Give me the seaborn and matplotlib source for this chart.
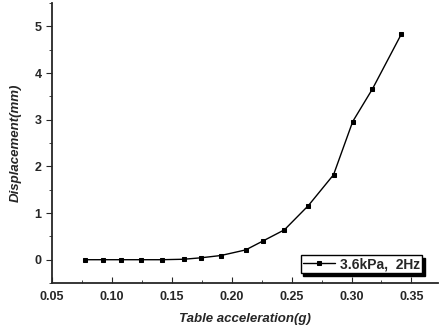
import seaborn as sns
import matplotlib.pyplot as plt
from matplotlib.ticker import MultipleLocator

accel = [0.0775, 0.0925, 0.1075, 0.124, 0.1417, 0.160, 0.174, 0.191,
         0.2117, 0.226, 0.244, 0.264, 0.285, 0.301, 0.3175, 0.3417]
disp = [0.0, 0.0, 0.0, 0.0, 0.0, 0.01, 0.04, 0.09,
        0.21, 0.40, 0.64, 1.16, 1.82, 2.96, 3.66, 4.84]
series_label = "3.6kPa,  2Hz"

sns.set_style("ticks")
plt.rcParams['font.family'] = ['Liberation Sans', 'DejaVu Sans']

fig = plt.figure(figsize=(4.4, 3.33), dpi=100)
ax = fig.add_axes([0.118, 0.150, 0.877, 0.841])

sns.lineplot(x=accel, y=disp, ax=ax, color='black', linewidth=1.0,
             marker='s', markersize=3.5, markeredgecolor='black',
             label=series_label)

ax.set_xlim(0.05, 0.372)
ax.set_ylim(-0.5, 5.5)
ax.xaxis.set_major_locator(MultipleLocator(0.05))
ax.xaxis.set_minor_locator(MultipleLocator(0.025))
ax.yaxis.set_major_locator(MultipleLocator(1))
ax.yaxis.set_minor_locator(MultipleLocator(0.5))
ax.set_xticks([0.05, 0.10, 0.15, 0.20, 0.25, 0.30, 0.35])
ax.set_xticklabels(['0.05', '0.10', '0.15', '0.20', '0.25', '0.30', '0.35'])

ax.tick_params(axis='x', which='both', direction='in', labelsize=9, pad=6)
ax.tick_params(axis='x', which='major', length=4)
ax.tick_params(axis='x', which='minor', length=2)
ax.tick_params(axis='y', which='both', direction='out', labelsize=9)
ax.tick_params(axis='y', which='major', length=4)
ax.tick_params(axis='y', which='minor', length=2)
for lbl in ax.get_xticklabels() + ax.get_yticklabels():
    lbl.set_fontweight('bold')

sns.despine(ax=ax)
ax.spines['left'].set_linewidth(1.3)
ax.spines['bottom'].set_linewidth(1.3)

ax.set_xlabel('Table acceleration(g)', fontsize=9.5, fontweight='bold',
              fontstyle='italic', labelpad=7)
ax.set_ylabel('Displacement(mm)', fontsize=9.5, fontweight='bold',
              fontstyle='italic', labelpad=9)

leg = ax.legend(loc='lower right', bbox_to_anchor=(0.96, 0.035),
                frameon=True, fancybox=False, shadow={'color': 'black', 'alpha': 1.0},
                fontsize=10, handlelength=2.3, borderpad=0.15, handletextpad=0.4,
                borderaxespad=0.0, prop={'weight': 'bold', 'size': 10})
leg.get_frame().set_edgecolor('black')
leg.get_frame().set_linewidth(1.0)

fig.savefig('out.png', dpi=100)
plt.close()
